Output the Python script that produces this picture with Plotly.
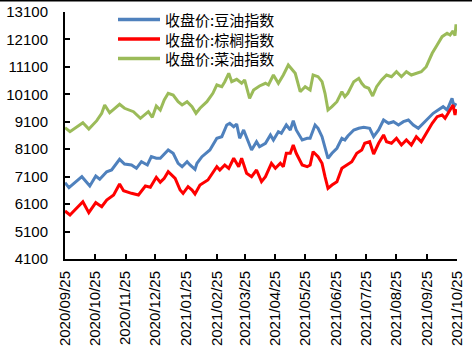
import plotly.graph_objects as go

# ---------------- data ----------------
soy_dates = ["2020-09-25","2020-09-29","2020-10-12","2020-10-20","2020-10-26","2020-10-30","2020-11-06","2020-11-11",
             "2020-11-19","2020-11-24","2020-12-01","2020-12-06","2020-12-11","2020-12-17","2020-12-21","2020-12-26",
             "2020-12-30","2021-01-03","2021-01-07","2021-01-12","2021-01-17","2021-01-21","2021-01-26","2021-01-29",
             "2021-02-03","2021-02-05","2021-02-10","2021-02-18","2021-02-25","2021-03-02","2021-03-07","2021-03-10",
             "2021-03-14","2021-03-17","2021-03-20","2021-03-24","2021-03-27","2021-04-01","2021-04-06","2021-04-09",
             "2021-04-15","2021-04-20","2021-04-23","2021-04-28","2021-05-01","2021-05-06","2021-05-10","2021-05-13",
             "2021-05-16","2021-05-22","2021-05-27","2021-05-30","2021-06-04","2021-06-07","2021-06-11","2021-06-14",
             "2021-06-17","2021-06-21","2021-06-26","2021-07-01","2021-07-04","2021-07-07","2021-07-13","2021-07-18",
             "2021-07-23","2021-07-29","2021-08-02","2021-08-07","2021-08-12","2021-08-17","2021-08-22","2021-08-27",
             "2021-09-01","2021-09-06","2021-09-11","2021-09-16","2021-09-21","2021-09-26","2021-10-01","2021-10-06",
             "2021-10-11","2021-10-15","2021-10-20","2021-10-22","2021-10-24"]
soy_values = [6880, 6700, 7100, 6760, 7125, 7005, 7280, 7345,
              7733, 7562, 7525, 7405, 7646, 7525, 7828, 7770,
              7770, 7915, 8072, 7952, 7587, 7463, 7646, 7525,
              7369, 7587, 7828, 8072, 8498, 8557, 8983, 9045,
              8921, 9019, 8498, 8801, 8498, 8072, 8374, 8192,
              8316, 8619, 8436, 8739, 8681, 8983, 8801, 9140,
              8801, 8436, 8498, 8498, 8983, 8863, 8557, 8192,
              7770, 7952, 8134, 8498, 8436, 8582, 8801, 8863,
              8899, 8863, 8557, 8801, 9165, 9045, 9103, 8983,
              9103, 9165, 8983, 8863, 9045, 9200, 9409, 9530,
              9650, 9530, 9956, 9650, 9774]

palm_dates = ["2020-09-25","2020-09-30","2020-10-13","2020-10-19","2020-10-26","2020-11-01","2020-11-06","2020-11-13",
              "2020-11-19","2020-11-23","2020-12-01","2020-12-08","2020-12-15","2020-12-20","2020-12-26","2020-12-30",
              "2021-01-03","2021-01-07","2021-01-14","2021-01-19","2021-01-22","2021-01-27","2021-01-31","2021-02-03",
              "2021-02-08","2021-02-16","2021-02-25","2021-02-28","2021-03-05","2021-03-09","2021-03-14","2021-03-19",
              "2021-03-22","2021-03-27","2021-04-01","2021-04-06","2021-04-11","2021-04-15","2021-04-21","2021-04-25",
              "2021-04-30","2021-05-03","2021-05-06","2021-05-10","2021-05-13","2021-05-16","2021-05-22","2021-05-27",
              "2021-05-30","2021-06-02","2021-06-07","2021-06-11","2021-06-14","2021-06-17","2021-06-21","2021-06-26",
              "2021-07-01","2021-07-06","2021-07-11","2021-07-16","2021-07-21","2021-07-24","2021-07-29","2021-08-02",
              "2021-08-07","2021-08-12","2021-08-15","2021-08-20","2021-08-25","2021-08-30","2021-09-04","2021-09-09",
              "2021-09-14","2021-09-19","2021-09-24","2021-09-30","2021-10-05","2021-10-10","2021-10-13","2021-10-17",
              "2021-10-21","2021-10-23","2021-10-24"]
palm_values = [5850, 5703, 6188, 5787, 6152, 6006, 6250, 6432,
               6833, 6589, 6494, 6432, 6760, 6713, 7077, 6900,
               7041, 7281, 7041, 6614, 6494, 6735, 6614, 6469,
               6797, 6979, 7463, 7343, 7525, 7405, 7770, 7463,
               7770, 7223, 7099, 7343, 6917, 7099, 7587, 7405,
               7587, 7463, 7952, 7952, 8254, 7952, 7525, 7463,
               7525, 8010, 7828, 7587, 7099, 6676, 6797, 6917,
               7405, 7525, 7646, 7952, 8072, 8316, 8374, 7926,
               8316, 8619, 8374, 8316, 8498, 8254, 8436, 8254,
               8557, 8374, 8700, 9045, 9285, 9347, 9227, 9468,
               9712, 9347, 9566]

rape_dates = ["2020-09-25","2020-09-30","2020-10-13","2020-10-19","2020-10-27","2020-11-01","2020-11-04","2020-11-09",
              "2020-11-13","2020-11-19","2020-11-24","2020-12-03","2020-12-10","2020-12-18","2020-12-22","2020-12-26",
              "2020-12-30","2021-01-03","2021-01-07","2021-01-12","2021-01-17","2021-01-21","2021-01-26","2021-01-31",
              "2021-02-04","2021-02-08","2021-02-15","2021-02-21","2021-02-25","2021-03-02","2021-03-05","2021-03-09",
              "2021-03-12","2021-03-17","2021-03-22","2021-03-25","2021-03-30","2021-04-03","2021-04-09","2021-04-15",
              "2021-04-18","2021-04-23","2021-04-28","2021-05-03","2021-05-08","2021-05-11","2021-05-15","2021-05-20",
              "2021-05-25","2021-05-30","2021-06-02","2021-06-07","2021-06-11","2021-06-14","2021-06-17","2021-06-21",
              "2021-06-26","2021-07-01","2021-07-04","2021-07-07","2021-07-13","2021-07-18","2021-07-21","2021-07-24",
              "2021-07-28","2021-08-01","2021-08-05","2021-08-10","2021-08-15","2021-08-20","2021-08-25","2021-08-30",
              "2021-09-04","2021-09-09","2021-09-14","2021-09-19","2021-09-24","2021-09-30","2021-10-05","2021-10-10",
              "2021-10-15","2021-10-18","2021-10-21","2021-10-23","2021-10-24"]
rape_values = [8885, 8739, 9067, 8837, 9140, 9409, 9712, 9431,
               9555, 9737, 9592, 9468, 9227, 9468, 9264, 9675,
               9530, 9894, 10138, 10076, 9832, 9712, 9832, 9650,
               9409, 9592, 9832, 10138, 10441, 10379, 10561, 10867,
               10561, 10648, 10503, 10623, 9956, 10258, 10404, 10503,
               10441, 10805, 10503, 10805, 11169, 11049, 10867, 10196,
               10379, 10258, 10805, 10743, 10561, 10138, 9530, 9650,
               9832, 10196, 10014, 10138, 10561, 10685, 10503, 10379,
               10320, 10040, 10379, 10623, 10805, 10743, 10925, 10743,
               10925, 10805, 10867, 10925, 11107, 11596, 11898, 12201,
               12325, 12263, 12408, 12237, 12653]

series_names = ["收盘价:豆油指数", "收盘价:棕榈指数", "收盘价:菜油指数"]
series_colors = ["#4F81BD", "#FF0000", "#9BBB59"]

tick_dates = ["2020-09-25","2020-10-25","2020-11-25","2020-12-25","2021-01-25","2021-02-25","2021-03-25",
              "2021-04-25","2021-05-25","2021-06-25","2021-07-25","2021-08-25","2021-09-25","2021-10-25"]
tick_labels = ["2020/09/25","2020/10/25","2020/11/25","2020/12/25","2021/01/25","2021/02/25","2021/03/25",
               "2021/04/25","2021/05/25","2021/06/25","2021/07/25","2021/08/25","2021/09/25","2021/10/25"]
y_ticks = [4100, 5100, 6100, 7100, 8100, 9100, 10100, 11100, 12100, 13100]
y_tick_labels = ["4100", "5100", "6100", "7100", "8100", "9100", "10100", "11100", "12100", "13100"]

# ---------------- figure ----------------
fig = go.Figure()
all_series = [(soy_dates, soy_values), (palm_dates, palm_values), (rape_dates, rape_values)]
for (d, v), name, col in zip(all_series, series_names, series_colors):
    fig.add_trace(go.Scatter(x=d, y=v, mode="lines", name=name,
                             line=dict(color=col, width=3), showlegend=False))

W, H = 473, 355
L, R, T, B = 65, 16, 12, 96
pw, ph = W - L - R, H - T - B

def px_x(x):
    return (x - L) / pw

def px_y(y):
    return (H - B - y) / ph

# manual legend: line samples + one three-line text block (tight rows like the reference)
legend_rows = [19.5, 39, 58.5]
for col, yy in zip(series_colors, legend_rows):
    fig.add_shape(type="line", xref="paper", yref="paper",
                  x0=px_x(118), x1=px_x(160), y0=px_y(yy), y1=px_y(yy),
                  line=dict(color=col, width=3.5))
fig.add_annotation(text="<br>".join(series_names), xref="paper", yref="paper",
                   x=px_x(164), y=px_y(legend_rows[1]),
                   xanchor="left", yanchor="middle", align="left", showarrow=False, borderpad=0,
                   font=dict(family="Noto Sans CJK SC", size=15, color="black"))

# top frame line (as in the reference crop)
fig.add_shape(type="line", xref="paper", yref="paper",
              x0=px_x(0), x1=px_x(472), y0=px_y(0.5), y1=px_y(0.5),
              line=dict(color="black", width=2))

fig.update_layout(
    template="none",
    width=W, height=H,
    margin=dict(l=L, r=R, t=T, b=B, pad=0),
    paper_bgcolor="white", plot_bgcolor="white",
    font=dict(family="Liberation Sans", size=15, color="black"),
)
fig.update_xaxes(type="date", range=["2020-09-25", "2021-10-25"], automargin=False,
                 tickmode="array", tickvals=tick_dates, ticktext=tick_labels,
                 tickangle=-90, ticks="inside", ticklen=5, tickwidth=2, tickcolor="black",
                 showline=True, linecolor="black", linewidth=2, showgrid=False, zeroline=False,
                 ticklabelstandoff=4, tickfont=dict(size=15))
fig.update_yaxes(range=[4100, 13100], tickmode="array", tickvals=y_ticks, ticktext=y_tick_labels,
                 automargin=False,
                 ticks="inside", ticklen=5, tickwidth=2, tickcolor="black",
                 showline=True, linecolor="black", linewidth=2, showgrid=False, zeroline=False,
                 ticklabelstandoff=12, tickfont=dict(size=15))

fig.write_html("out.html", config={"displayModeBar": False},
               post_script="document.body.style.margin='0px';document.body.style.padding='0px';"
                           "document.documentElement.style.overflow='hidden';")
